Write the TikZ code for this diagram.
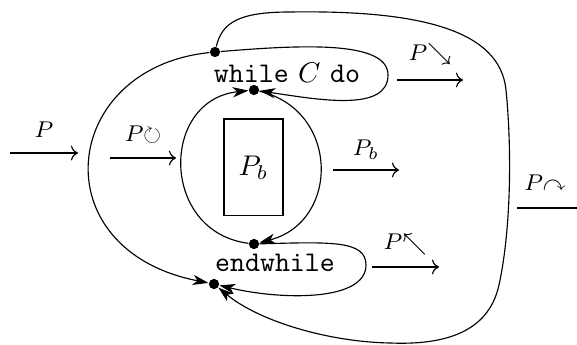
\documentclass[tikz,border=0pt]{standalone}
\usepackage{amssymb}
\usetikzlibrary{arrows.meta}
\begin{document}
\begin{tikzpicture}[x=0.351pt,y=-0.351pt,
  dotnode/.style={circle,fill=black,inner sep=0pt,minimum size=3.6pt},
  flow/.style={-{Stealth[length=5.5pt,width=3.6pt,inset=1.6pt]}},
  lbl/.style={font=\footnotesize,inner sep=0pt},
  plainarr/.style={->}]
\useasboundingbox (0,0) rectangle (577,345);
% junction dots
\node[dotnode] (dA) at (215,52) {};
\node[dotnode] (dB) at (254,90) {};
\node[dotnode] (dC) at (254,244) {};
\node[dotnode] (dD) at (214,284) {};
% texts
\node (wh) at (287,73) {\texttt{while} $C$ \texttt{do}};
\node (ew) at (275,263) {\texttt{endwhile}};
\node[draw,minimum width=20.7pt,minimum height=34pt,inner sep=0pt] (body) at (253.5,167.5) {$P_b$};
% inner arcs
\draw[flow] (dB) .. controls (340,110) and (340,222) .. (dC);
\draw[flow] (dC) .. controls (160,232) and (160,100) .. (dB);
% while loop
\draw[flow] (dA) .. controls (300,45) and (388,40) .. (388,75)
               .. controls (388,112) and (320,100) .. (dB);
% endwhile loop
\draw[flow] (dC) .. controls (330,242) and (366,240) .. (366,265)
               .. controls (366,302) and (280,300) .. (dD);
% big left arc
\draw[flow] (dA) .. controls (60,68) and (40,250) .. (dD);
% outer loop
\draw[flow] (dA) .. controls (222,22) and (240,12) .. (290,12)
               .. controls (420,10) and (500,30) .. (506,90)
               .. controls (512,150) and (511,230) .. (499,285)
               .. controls (488,335) and (440,345) .. (390,343)
               .. controls (330,342) and (260,322) .. (dD);
% labelled straight arrows
\coordinate (a1s) at (10,153);  \coordinate (a1e) at (78,153);
\coordinate (a2s) at (110,158); \coordinate (a2e) at (176,158);
\coordinate (a3s) at (397,80);  \coordinate (a3e) at (463,80);
\coordinate (a4s) at (333,170); \coordinate (a4e) at (399,170);
\coordinate (a5s) at (372,267); \coordinate (a5e) at (439,267);
\coordinate (a6s) at (517,208); \coordinate (a6e) at (577,208);
\draw[plainarr] (a1s) -- (a1e);
\draw[plainarr] (a2s) -- (a2e);
\draw[plainarr] (a3s) -- (a3e);
\draw[plainarr] (a4s) -- (a4e);
\draw[plainarr] (a5s) -- (a5e);
\draw (a6s) -- (a6e);
\node[lbl] (l1) at (44,130) {$P$};
\node[lbl] (l2) at (143,135) {$P{\circlearrowright}$};
\node[lbl] (l3) at (430,55) {$P{\searrow}$};
\node[lbl] (l4) at (366,150) {$P_b$};
\node[lbl] (l5) at (405,244) {$P{\nwarrow}$};
\node[lbl] (l6) at (545,183) {$P{\curvearrowright}$};
\end{tikzpicture}
\end{document}
